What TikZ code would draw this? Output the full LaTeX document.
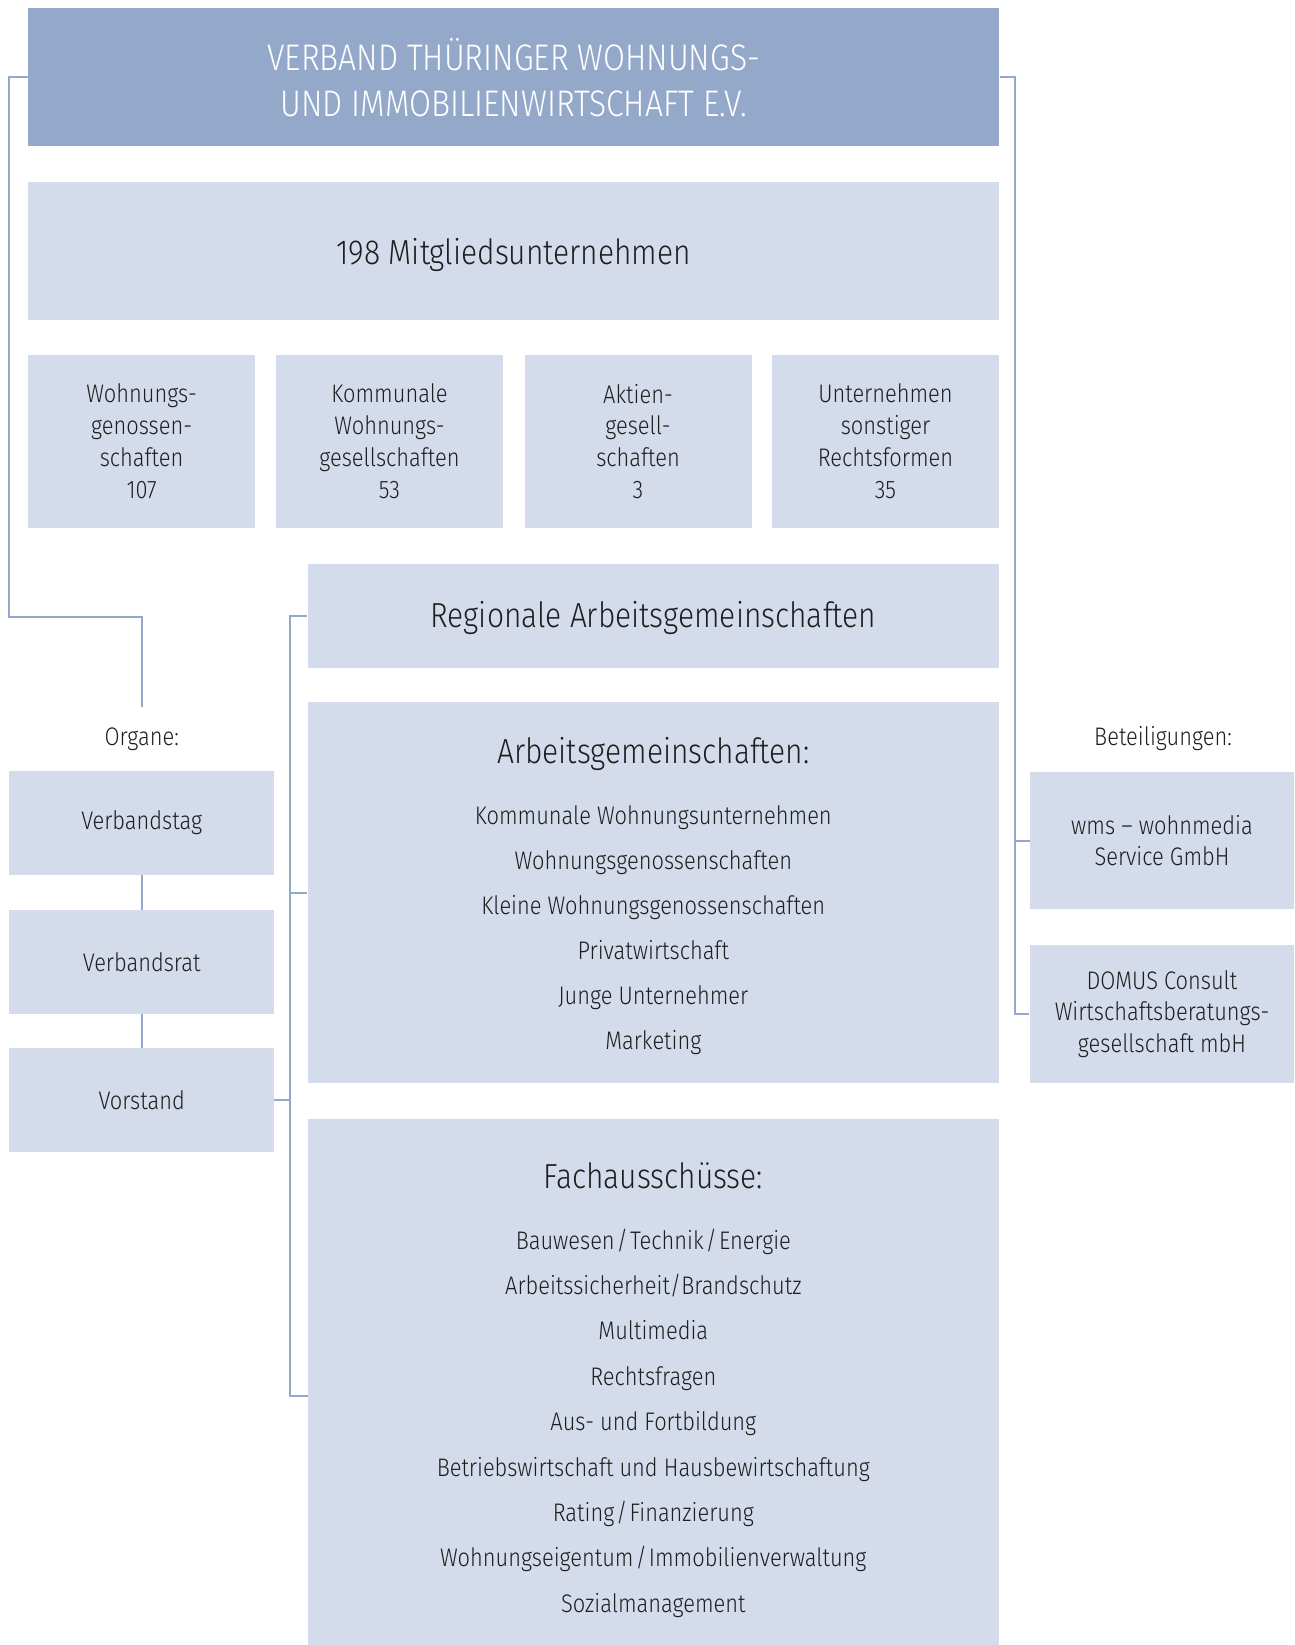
\documentclass[tikz,border=0pt]{standalone}
\usepackage{fontspec}
\setmainfont{Fira Sans}[FakeStretch=0.86,UprightFont={* Light}]
\usepackage{xcolor}
\usetikzlibrary{positioning}
\definecolor{HeadBlue}{HTML}{94A9C9}
\definecolor{BoxBlue}{HTML}{D4DCEB}
\definecolor{LineBlue}{HTML}{94A9C9}
\definecolor{Ink}{HTML}{1E1E1E}
\begin{document}
\begin{tikzpicture}[x=0.5pt,y=-0.5pt,
  box/.style={fill=BoxBlue,inner sep=0pt,align=center,text=Ink,font=\fontsize{12.7}{15.9}\selectfont},
  head/.style={fill=HeadBlue,inner sep=0pt,align=center,text=white,font=\fontsize{18.5}{23}\selectfont},
  big/.style={font=\fontsize{17.4}{22}\selectfont},
  item/.style={inner sep=0pt,text=Ink,text height=8.7pt,text depth=0pt,font=\fontsize{12.7}{15}\selectfont},
  lbl/.style={item},
  link/.style={draw=LineBlue,line width=1pt}]
\useasboundingbox (0,0) rectangle (1295,1645);
% top of the chart
\node[head,minimum width=485.5pt,minimum height=68.8pt] (verband) at (513.7,77.2)
  {VERBAND THÜRINGER WOHNUNGS-\\UND IMMOBILIENWIRTSCHAFT E.V.};
\node[box,minimum width=485.5pt,minimum height=69.3pt] (mitglieder) at (513.7,250.8) {};
\node[big,inner sep=0pt,text=Ink,text height=12pt,text depth=0pt] (mitgltext) at (513.7,252)
  {198 Mitgliedsunternehmen};
\node[box,minimum width=113.5pt,minimum height=86.6pt] (wg) at (141.6,441.3)
  {Wohnungs-\\genossen-\\schaften\\107};
\node[box,minimum width=113.5pt,minimum height=86.6pt] (kwg) at (389.5,441.3)
  {Kommunale\\Wohnungs-\\gesellschaften\\53};
\node[box,minimum width=113.5pt,minimum height=86.6pt] (ag) at (638,441.3)
  {Aktien-\\gesell-\\schaften\\3};
\node[box,minimum width=113.5pt,minimum height=86.6pt] (sonst) at (885.5,441.3)
  {Unternehmen\\sonstiger\\Rechtsformen\\35};
% middle column
\node[box,minimum width=345.8pt,minimum height=52pt] (regio) at (653.3,615.5) {};
\node[big,inner sep=0pt,text=Ink,text height=12pt,text depth=0pt] (regiotext) at (653.3,615.5)
  {Regionale Arbeitsgemeinschaften};
\node[box,minimum width=345.8pt,minimum height=190.5pt] (arbg) at (653.3,892.5) {};
\node[big,inner sep=0pt,text=Ink,text height=12pt,text depth=0pt] (arbgtitle) at (653.3,751)
  {Arbeitsgemeinschaften:};
\foreach \t [count=\i] in {Kommunale Wohnungsunternehmen,Wohnungsgenossenschaften,
    Kleine Wohnungsgenossenschaften,Privatwirtschaft,Junge Unternehmer,Marketing}
  \node[item] (arbg\i) at (653.3,{815.4+45.1*(\i-1)}) {\t};
\node[box,minimum width=345.8pt,minimum height=263.2pt] (fach) at (653.3,1381.8) {};
\node[big,inner sep=0pt,text=Ink,text height=12pt,text depth=0pt] (fachtitle) at (653.3,1176.4)
  {Fachausschüsse:};
\foreach \t [count=\i] in {Bauwesen\kern1pt/\kern1pt Technik\kern1pt/\kern1pt Energie,
    Arbeitssicherheit/Brandschutz,Multimedia,Rechtsfragen,Aus- und Fortbildung,
    Betriebswirtschaft und Hausbewirtschaftung,Rating\kern1pt/\kern1pt Finanzierung,
    Wohnungseigentum\kern1pt/\kern1pt Immobilienverwaltung,Sozialmanagement}
  \node[item] (fach\i) at (653.3,{1240.4+45.4*(\i-1)}) {\t};
% organs
\node[lbl] (organe) at (141.7,736.7) {Organe:};
\node[box,minimum width=132.3pt,minimum height=52pt] (tag) at (141.7,823) {Verbandstag};
\node[box,minimum width=132.3pt,minimum height=52pt] (rat) at (141.7,962) {Verbandsrat};
\node[box,minimum width=132.3pt,minimum height=52pt] (vorstand) at (141.7,1100) {Vorstand};
% holdings
\node[lbl] (beteil) at (1163,736.7) {Beteiligungen:};
\node[box,minimum width=131.8pt,minimum height=68.5pt] (wms) at (1162,840.5)
  {wms -- wohnmedia\\Service GmbH};
\node[box,minimum width=132.3pt,minimum height=68.8pt] (domus) at (1162,1014)
  {DOMUS Consult\\Wirtschaftsberatungs-\\gesellschaft mbH};
% connectors
\coordinate (orgtop) at (141.7,707);
\coordinate (facjoin) at (307.5,1396);
\draw[link] (verband.west) -| (9.4,617) -| (orgtop);
\draw[link] (verband.east) -| (1015,1014) -- (domus.west);
\draw[link] (1015,840.5) -- (wms.west);
\draw[link] (regio.west) -| (289.6,1396) -- (facjoin);
\draw[link] (arbg.west) -- (289.6,892.5);
\draw[link] (vorstand.east) -- (289.6,1100);
\draw[link] (tag.south) -- (rat.north);
\draw[link] (rat.south) -- (vorstand.north);
\end{tikzpicture}
\end{document}
